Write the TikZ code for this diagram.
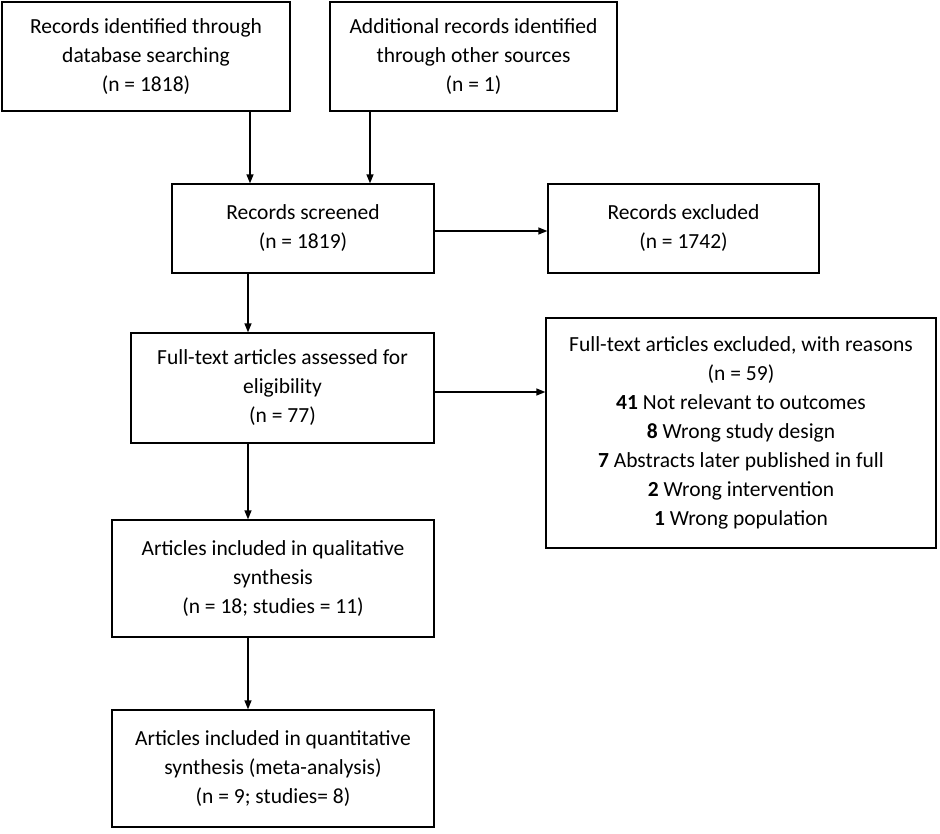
\documentclass[tikz,border=0pt]{standalone}
\usepackage{fontspec}
\setmainfont{Carlito}
\usetikzlibrary{arrows.meta}
\begin{document}
\begin{tikzpicture}[x=1pt,y=-1pt,
  box/.style={draw,line width=1.3pt,align=center,inner sep=0pt,font=\fontsize{21.5}{29}\selectfont},
  arr/.style={-{Triangle[length=9pt,width=7pt]},line width=1.3pt}]
\useasboundingbox (0,0) rectangle (940,833);
\newcommand{\bx}[6]{\node[box,minimum width=#4-#2,minimum height=#5-#3] (#1) at ({(#2+#4)/2},{(#3+#5)/2}) {#6};}
\bx{A}{2}{2}{290}{111}{Records identified through\\database searching\\(n = 1818)}
\bx{B}{330}{2}{617}{111}{Additional records identified\\through other sources\\(n = 1)}
\bx{C}{172}{184}{434}{273}{Records screened\\(n = 1819)}
\bx{D}{548}{184}{819}{273}{Records excluded\\(n = 1742)}
\bx{E}{131}{333}{434}{443}{Full-text articles assessed for\\eligibility\\(n = 77)}
\bx{F}{546}{318}{936}{548}{Full-text articles excluded, with reasons\\(n = 59)\\\textbf{41} Not relevant to outcomes\\\textbf{8} Wrong study design\\\textbf{7} Abstracts later published in full\\\textbf{2} Wrong intervention\\\textbf{1} Wrong population}
\bx{G}{112}{520}{434}{637}{Articles included in qualitative\\synthesis\\(n = 18; studies = 11)}
\bx{H}{112}{710}{434}{827}{Articles included in quantitative\\synthesis (meta-analysis)\\(n = 9; studies= 8)}
\draw[arr] (A.south -| 250,0) -- (C.north -| 250,0);
\draw[arr] (B.south -| 370,0) -- (C.north -| 370,0);
\draw[arr] (C.south -| 248,0) -- (E.north -| 248,0);
\draw[arr] (E.south -| 248,0) -- (G.north -| 248,0);
\draw[arr] (G.south -| 248,0) -- (H.north -| 248,0);
\draw[arr] (C.east |- 0,231) -- (D.west |- 0,231);
\draw[arr] (E.east |- 0,392) -- (F.west |- 0,392);
\end{tikzpicture}
\end{document}
